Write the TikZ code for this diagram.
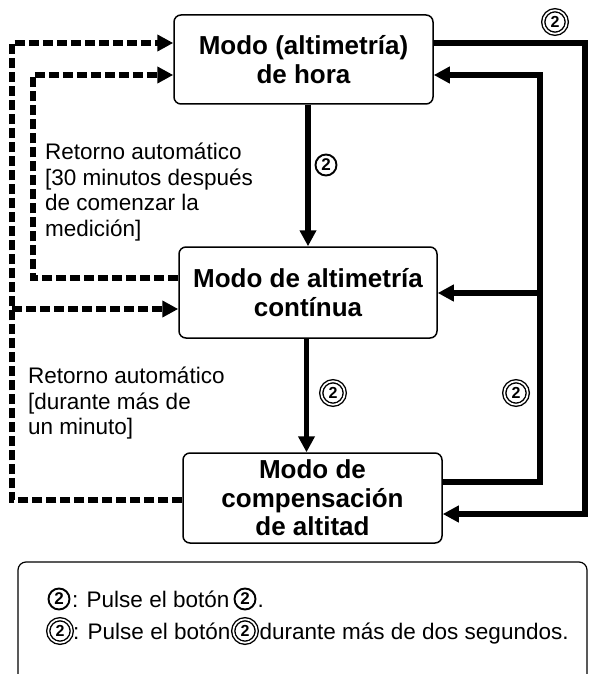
\documentclass[tikz,border=0pt]{standalone}
\usepackage{fontspec}
\setmainfont{Liberation Sans}
\usetikzlibrary{arrows.meta}
\begin{document}
\begin{tikzpicture}[x=1pt,y=-1pt,
  modebox/.style={draw, line width=1.5pt, rounded corners=7pt, align=center,
    font=\fontsize{26}{28.5}\selectfont\bfseries, inner sep=0pt},
  solidarrow/.style={line width=5.4pt, -{Triangle[length=16pt,width=16pt]}},
  dasharrow/.style={line width=5.4pt, dash pattern=on 10pt off 4pt, -{Triangle[length=16pt,width=16pt]}},
  note/.style={align=left, anchor=north west, inner sep=0pt, font=\fontsize{22.5}{25.5}\selectfont},
  onecirc/.style={circle, draw, line width=1.9pt, minimum size=21pt, inner sep=0pt,
    font=\fontsize{17}{17}\selectfont\bfseries},
  twocirc/.style={circle, draw, double, double distance=1.7pt, line width=1.4pt, minimum size=23.5pt,
    inner sep=0pt, font=\fontsize{16}{16}\selectfont\bfseries},
  legtext/.style={anchor=base west, inner sep=0pt, font=\fontsize{22.5}{25}\selectfont}
]
\useasboundingbox (0,0) rectangle (589,674);

% mode boxes
\node[modebox, minimum width=259pt, minimum height=89pt] (b1) at (303.5,59.5) {Modo (altimetría)\\de hora};
\node[modebox, minimum width=258pt, minimum height=91pt] (b2) at (308,292.5) {Modo de altimetría\\contínua};
\node[modebox, minimum width=259pt, minimum height=90pt] (b3) at (312.5,498) {Modo de\\compensación\\de altitad};

% routing coordinates
\coordinate (ro1) at (585,43);
\coordinate (ro2) at (585,514);
\coordinate (ri1) at (540,482);
\coordinate (ri2) at (540,75);
\coordinate (ri3) at (540,293);
\coordinate (li1) at (33,278);
\coordinate (li2) at (33,75);
\coordinate (lo1) at (12,500);
\coordinate (lo2) at (12,43);
\coordinate (lo3) at (12,309);

% vertical arrows
\draw[solidarrow] ([xshift=4.5pt]b1.south) -- ([xshift=4.5pt]b1.south |- b2.north);
\draw[solidarrow] ([xshift=-1.5pt]b2.south) -- ([xshift=-1.5pt]b2.south |- b3.north);

% right side loops
\draw[solidarrow] (ro1 -| b1.east) -- (ro1) -- (ro2) -- (ro2 -| b3.east);
\draw[solidarrow] (ri1 -| b3.east) -- (ri1) -- (ri2) -- (ri2 -| b1.east);
\draw[solidarrow] (ri3) -- (ri3 -| b2.east);

% left dashed loops
\draw[dasharrow] (li1 -| b2.west) -- (li1) -- (li2) -- (li2 -| b1.west);
\draw[dasharrow] (lo1 -| b3.west) -- (lo1) -- (lo2) -- (lo2 -| b1.west);
\draw[dasharrow] (lo3) -- (lo3 -| b2.west);

% button marks on arrows
\node[onecirc] (m1) at (326,165) {2};
\node[twocirc] (m2) at (555,22) {2};
\node[twocirc] (m3) at (333,393) {2};
\node[twocirc] (m4) at (516,393) {2};

% notes
\node[note] (n1) at (45,143) {Retorno automático\\{[}30 minutos después\\de comenzar la\\medición{]}};
\node[note] (n2) at (28,367) {Retorno automático\\{[}durante más de\\un minuto{]}};

% legend
\begin{scope}
\clip (0,0) rectangle (589,674);
\draw[line width=1.2pt, rounded corners=8pt] (18,720) -- (18,562) -- (587,562) -- (587,720);
\end{scope}
\coordinate (base1) at (0,607);
\coordinate (base2) at (0,639);
\node[onecirc] (k1) at (59,599) {2};
\node[legtext] (k1t) at ([xshift=1.5pt]k1.east |- base1) {: Pulse el botón};
\node[onecirc, anchor=west] (k2) at ([xshift=4pt]k1t.east |- k1) {2};
\node[legtext] (k2t) at ([xshift=1pt]k2.east |- base1) {.};
\node[twocirc] (k3) at (60,631) {2};
\node[legtext] (k3t) at ([xshift=0.5pt]k3.east |- base2) {: Pulse el botón};
\node[twocirc, anchor=west] (k4) at ([xshift=2pt]k3t.east |- k3) {2};
\node[legtext] (k4t) at ([xshift=2pt]k4.east |- base2) {durante más de dos segundos.};
\end{tikzpicture}
\end{document}
